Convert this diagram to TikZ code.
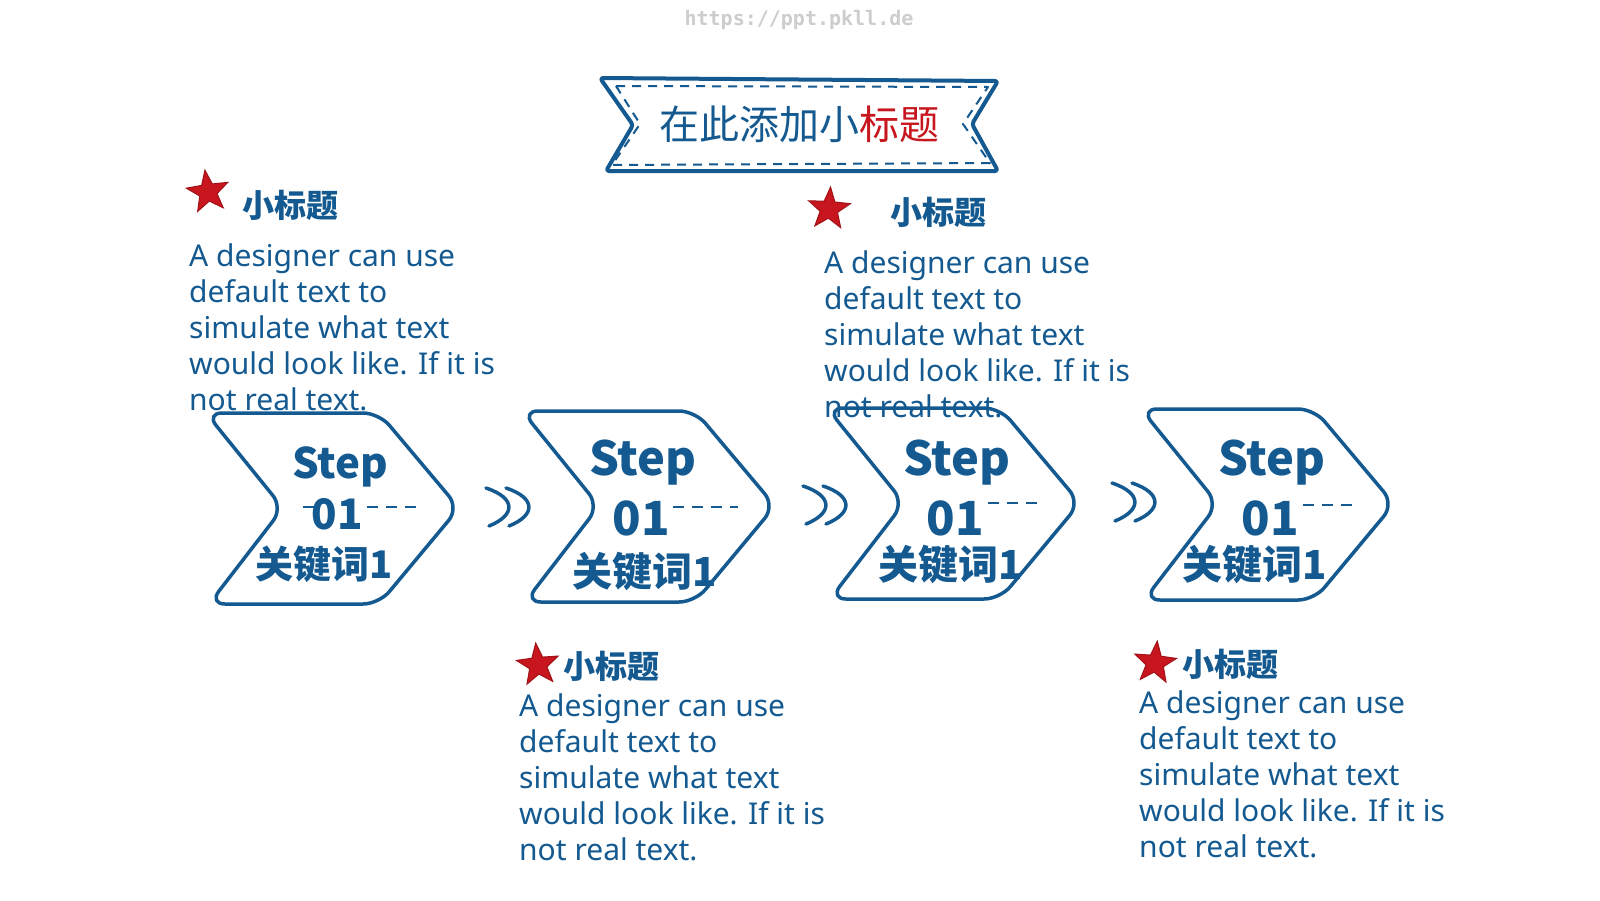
\documentclass[tikz,border=0pt]{standalone}
\usepackage{fontspec}
\setmainfont{Noto Sans}
\newfontfamily\cjk{Noto Sans CJK SC}
\newfontfamily\wmfont{DejaVu Sans Mono}
\usetikzlibrary{shapes.geometric}
\definecolor{mblue}{RGB}{20,90,145}
\definecolor{mred}{RGB}{200,22,30}
\definecolor{wmgray}{RGB}{205,205,205}
\begin{document}
\begin{tikzpicture}[x=1pt,y=-1pt,
  chevbox/.style={draw=mblue, line width=3.5pt, rounded corners=16pt, line join=round},
  dashln/.style={draw=mblue, line width=2.5pt, dash pattern=on 11pt off 8pt},
  arrowstroke/.style={draw=mblue, line width=3.5pt, line cap=round},
  stepword/.style={text=mblue, inner sep=0pt, font=\cjk\bfseries\fontsize{47}{47}\selectfont},
  numword/.style={text=mblue, inner sep=0pt, font=\cjk\bfseries\fontsize{47}{47}\selectfont},
  keyword/.style={text=mblue, inner sep=0pt, font=\cjk\bfseries\fontsize{40}{40}\selectfont},
  head/.style={text=mblue, inner sep=0pt, anchor=west, font=\cjk\bfseries\fontsize{32}{32}\selectfont},
  body/.style={text=mblue, inner sep=0pt, anchor=north west, align=left, font=\fontsize{30}{36}\selectfont},
  redstar/.style={star, star points=5, star point ratio=2.4, fill=mred, draw=mred!80!black, line width=1pt, minimum size=44pt, inner sep=0pt}
]
\useasboundingbox[fill=white] (0,0) rectangle (1600,900);

% watermark
\node[text=wmgray, font=\wmfont\bfseries\fontsize{20}{20}\selectfont] (wm) at (799,20) {https://ppt.pkll.de};

% title banner
\draw[draw=mblue, line width=4pt, line join=round, rounded corners=3pt]
  (600,78) -- (998,81) -- (972,124) -- (998,171) -- (606,171) -- (633,125) -- cycle;
\draw[draw=mblue, line width=2pt, dash pattern=on 9pt off 7pt, line join=round]
  (616,86) -- (988,87) -- (963,124) -- (990,163) -- (612,165) -- (640,124) -- cycle;
\node[inner sep=0pt, font=\cjk\fontsize{40}{40}\selectfont] (title) at (799,124)
  {\textcolor{mblue}{在此添加小}\textcolor{mred}{标题}};

% chevrons
\foreach \dx/\dy in {0/0, 316/-2, 621/-5, 935/-4}{
  \begin{scope}[shift={(\dx,\dy)}]
    \draw[chevbox] (206,413) -- (379,413) -- (459,508) -- (379,604) -- (209,604) -- (283,508) -- cycle;
  \end{scope}
}

% chevron 1 text
\node[stepword, font=\cjk\bfseries\fontsize{42}{42}\selectfont] (s1) at (340,467) {Step};
\node[numword, font=\cjk\bfseries\fontsize{42}{42}\selectfont] (n1) at (337,514) {01};
\coordinate (d1a) at (303,507); \coordinate (d1b) at (318,507);
\draw[dashln] (d1a) -- (d1b);
\coordinate (d1c) at (367,507); \coordinate (d1d) at (422,507);
\draw[dashln] (d1c) -- (d1d);
\node[keyword, font=\cjk\bfseries\fontsize{38}{38}\selectfont] (k1) at (324,564) {关键词1};

% chevron 2 text
\node[stepword] (s2) at (643,463) {Step};
\node[numword] (n2) at (641,518) {01};
\coordinate (d2a) at (673,507); \coordinate (d2b) at (738,507);
\draw[dashln] (d2a) -- (d2b);
\node[keyword] (k2) at (645,571) {关键词1};

% chevron 3 text
\node[stepword] (s3) at (957,463) {Step};
\node[numword] (n3) at (955,518) {01};
\coordinate (d3a) at (988,503); \coordinate (d3b) at (1044,503);
\draw[dashln] (d3a) -- (d3b);
\node[keyword] (k3) at (951,564) {关键词1};

% chevron 4 text
\node[stepword] (s4) at (1272,463) {Step};
\node[numword] (n4) at (1270,518) {01};
\coordinate (d4a) at (1303,505); \coordinate (d4b) at (1358,505);
\draw[dashln] (d4a) -- (d4b);
\node[keyword] (k4) at (1255,564) {关键词1};

% double arrows
\foreach \ax/\ay in {486/488, 803/486, 1112/483}{
  \begin{scope}[shift={(\ax,\ay)}]
    \draw[arrowstroke] (0,0) .. controls (30,10) and (30,27) .. (3,38);
    \draw[arrowstroke] (20,0) .. controls (50,10) and (50,27) .. (23,38);
  \end{scope}
}

% text block 1
\node[redstar, rotate=8] (st1) at (208,192) {};
\node[head] (h1) at (242,205) {小标题};
\node[body] (t1) at (189,243) {A designer can use\\default text to\\simulate what text\\would look like. If it is\\not real text.};

% text block 2 (top right)
\node[redstar, rotate=-4] (st2) at (829,209) {};
\node[head] (h2) at (890,212) {小标题};
\node[body] (t2) at (824,250) {A designer can use\\default text to\\simulate what text\\would look like. If it is\\not real text.};

% text block 3 (bottom)
\node[redstar, rotate=6] (st3) at (538,665) {};
\node[head] (h3) at (563,666) {小标题};
\node[body] (t3) at (519,693) {A designer can use\\default text to\\simulate what text\\would look like. If it is\\not real text.};

% text block 4 (bottom right)
\node[redstar, rotate=-6] (st4) at (1155,663) {};
\node[head] (h4) at (1182,664) {小标题};
\node[body] (t4) at (1139,690) {A designer can use\\default text to\\simulate what text\\would look like. If it is\\not real text.};
\end{tikzpicture}
\end{document}
